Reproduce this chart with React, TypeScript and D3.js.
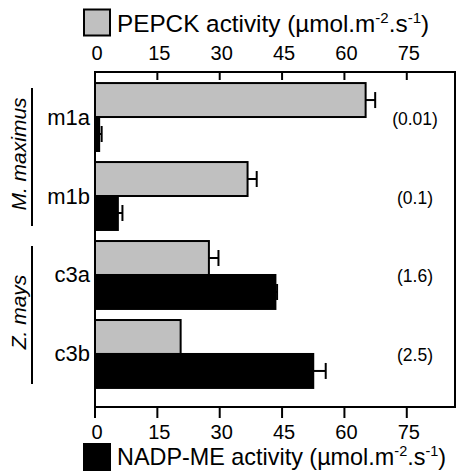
import * as d3 from 'd3';
import React, { useRef, useEffect } from 'react';

const categories = ['m1a', 'm1b', 'c3a', 'c3b'];
const pepck = [65.1, 36.7, 27.4, 20.6];
const pepckErr = [2.3, 2.2, 2.3, 0];
const nadpme = [1.0, 5.5, 43.4, 52.5];
const nadpmeErr = [0.6, 1.1, 0.4, 3.0];
const ratios = ['(0.01)', '(0.1)', '(1.6)', '(2.5)'];
const speciesNames = ['M. maximus', 'Z. mays'];
const speciesGroups = [['m1a', 'm1b'], ['c3a', 'c3b']];
const tickValues = [0, 15, 30, 45, 60, 75];

const W = 456;
const H = 471;
const FONT = 'Liberation Sans, Arial, sans-serif';
const GRAY = '#c0c0c0';

function App() {
  const ref = useRef(null);

  useEffect(() => {
    const svg = d3.select(ref.current);
    svg.selectAll('*').remove();

    const left = 95, right = 455, top = 72, bottom = 407;

    const x = d3.scaleLinear().domain([0, 86.6]).range([left, right]);
    const y = d3.scaleBand().domain(categories).range([top, 399])
      .paddingInner(0.14).paddingOuter(0.14);
    const sub = d3.scaleBand().domain(['pepck', 'nadpme']).range([0, y.bandwidth()]);

    const series = [
      { key: 'pepck', values: pepck, errs: pepckErr, fill: GRAY },
      { key: 'nadpme', values: nadpme, errs: nadpmeErr, fill: '#000' },
    ];

    // bars + error bars
    series.forEach((s) => {
      const g = svg.append('g');
      categories.forEach((c, i) => {
        const y0 = y(c) + sub(s.key);
        const h = sub.bandwidth();
        g.append('rect')
          .attr('x', x(0))
          .attr('y', y0)
          .attr('width', x(s.values[i]) - x(0))
          .attr('height', h)
          .attr('fill', s.fill)
          .attr('stroke', '#000')
          .attr('stroke-width', 2);
        if (s.errs[i] > 0) {
          const cy = y0 + h / 2;
          const xe = x(s.values[i] + s.errs[i]);
          g.append('line')
            .attr('x1', x(s.values[i])).attr('x2', xe)
            .attr('y1', cy).attr('y2', cy)
            .attr('stroke', '#000').attr('stroke-width', 2);
          g.append('line')
            .attr('x1', xe).attr('x2', xe)
            .attr('y1', cy - 8).attr('y2', cy + 8)
            .attr('stroke', '#000').attr('stroke-width', 2);
        }
      });
    });

    // frame
    svg.append('rect')
      .attr('x', left).attr('y', top)
      .attr('width', right - left).attr('height', bottom - top)
      .attr('fill', 'none').attr('stroke', '#000').attr('stroke-width', 2);

    // top axis (ticks inside)
    const topAxis = svg.append('g');
    tickValues.forEach((t) => {
      topAxis.append('line')
        .attr('x1', x(t)).attr('x2', x(t))
        .attr('y1', top).attr('y2', top + 8)
        .attr('stroke', '#000').attr('stroke-width', 2);
      topAxis.append('text')
        .attr('x', x(t) + 2).attr('y', 60)
        .attr('text-anchor', 'middle')
        .attr('font-size', 20)
        .text(t);
    });

    // bottom axis (ticks outside)
    const botAxis = svg.append('g');
    tickValues.forEach((t) => {
      botAxis.append('line')
        .attr('x1', x(t)).attr('x2', x(t))
        .attr('y1', bottom).attr('y2', bottom + 11)
        .attr('stroke', '#000').attr('stroke-width', 2);
      botAxis.append('text')
        .attr('x', x(t) + 2).attr('y', 439)
        .attr('text-anchor', 'middle')
        .attr('font-size', 20)
        .text(t);
    });

    // category labels and ratio annotations
    categories.forEach((c, i) => {
      const cy = y(c) + y.bandwidth() / 2;
      svg.append('text')
        .attr('x', 90).attr('y', cy + 7.5)
        .attr('text-anchor', 'end')
        .attr('font-size', 22)
        .text(c);
      svg.append('text')
        .attr('x', 415).attr('y', cy + 7.5)
        .attr('text-anchor', 'middle')
        .attr('font-size', 17.5)
        .text(ratios[i]);
    });

    // species brackets
    speciesNames.forEach((name, i) => {
      const grp = speciesGroups[i];
      const y1 = y(grp[0]) + 5;
      const y2 = y(grp[grp.length - 1]) + y.bandwidth() - 4;
      svg.append('line')
        .attr('x1', 32).attr('x2', 32)
        .attr('y1', y1).attr('y2', y2)
        .attr('stroke', '#000').attr('stroke-width', 2);
      const cy = (y1 + y2) / 2 - 3;
      svg.append('text')
        .attr('transform', `translate(25.5,${cy}) rotate(-90)`)
        .attr('text-anchor', 'middle')
        .attr('font-size', 21)
        .attr('font-style', 'italic')
        .text(name);
    });

    // legends
    const legend = (yBox, fill, label, baseline, size) => {
      svg.append('rect')
        .attr('x', 84).attr('y', yBox)
        .attr('width', 26).attr('height', 26)
        .attr('fill', fill).attr('stroke', '#000').attr('stroke-width', 2);
      const t = svg.append('text')
        .attr('x', 117).attr('y', baseline)
        .attr('font-size', size);
      const sup = size * 0.62;
      t.append('tspan').text(label + ' activity (\u00b5mol.m');
      t.append('tspan').attr('dy', -9).attr('font-size', sup).text('-2');
      t.append('tspan').attr('dy', 9).text('.s');
      t.append('tspan').attr('dy', -9).attr('font-size', sup).text('-1');
      t.append('tspan').attr('dy', 9).text(')');
    };
    legend(9.5, GRAY, 'PEPCK', 31.5, 24.3);
    legend(444, '#000', 'NADP-ME', 465, 23.4);
  }, []);

  return (
    <svg ref={ref} width={W} height={H}
      style={{ position: 'absolute', left: 0, top: 0, fontFamily: FONT, background: '#fff' }} />
  );
}

export default App;
